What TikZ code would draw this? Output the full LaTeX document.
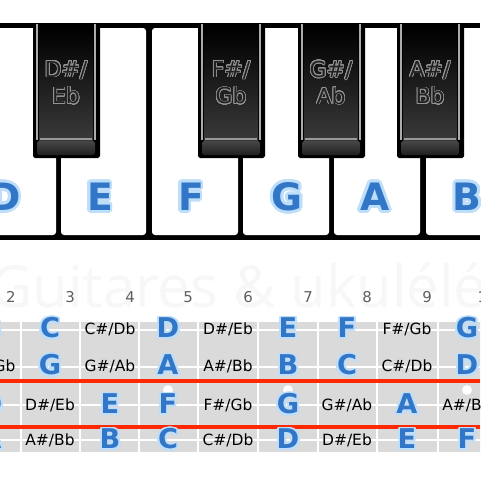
\documentclass[tikz,border=0pt]{standalone}
\usepackage{fontspec}
\setmainfont{DejaVu Sans}
\newfontfamily\markfont{Open Sans}
\usepackage{contour}
\contournumber{32}
\definecolor{keyblue}{RGB}{50,118,200}
\definecolor{keyglow}{RGB}{190,222,250}
\definecolor{cellgray}{RGB}{218,218,218}
\definecolor{barred}{RGB}{255,40,0}
\definecolor{fretgray}{RGB}{95,95,95}
\newcommand{\nt}[1]{{\bfseries\fontsize{15.5}{15.5}\selectfont\color{keyblue}\contourlength{1.1pt}\contour{keyglow}{#1}}}
\newcommand{\sh}[2]{#1\#/#2b}
\newcommand{\bklabel}[2]{\contour{gray!85}{#1\#/}\\\contour{gray!85}{#2b}}
\tikzstyle{whitekey} = [fill=white,rounded corners=1.7pt]
\tikzstyle{blackkey} = [fill=black,rounded corners=1pt]
\tikzstyle{keyname}  = [font=\bfseries\fontsize{21.5}{21.5}\selectfont,text=keyblue]
\tikzstyle{bkname}   = [font=\fontsize{12.5}{15.3}\selectfont,text=gray!25!black,align=center]
\tikzstyle{note}     = [font=\fontsize{8.8}{9}\selectfont,inner sep=0pt]
\tikzstyle{fretno}   = [font=\fontsize{8.5}{9}\selectfont,text=fretgray]
\tikzstyle{cell}     = [fill=cellgray]
\tikzstyle{bar}      = [draw=barred,line width=2.3pt]

\begin{document}
\begin{tikzpicture}[x=0.02cm,y=-0.02cm]
\useasboundingbox (0,0) rectangle (480,480);
\clip (0,0) rectangle (480,480);
\fill[white] (0,0) rectangle (480,480);

% watermark
\node[font=\markfont\fontsize{33}{33}\selectfont,text=gray!6,anchor=base west]
  (mark) at (-16,307) {Guitares \& ukulélé};

% piano
\fill[black] (0,23) rectangle (480,240);
\foreach \l/\r/\lx/\name in {-40/56/5/D,61/146/100/E,152/238/191/F,
                              243/329/287/G,334/420/375/A,426/520/467/B}{
  \path[whitekey] (\l,28) rectangle (\r,235);
  \node[keyname] (wk-\name) at (\lx,198) {\contourlength{1.5pt}\contour{keyglow}{\name}};
}
\foreach \cx/\up/\down in {66/D/E,231/F/G,331/G/A,430/A/B}{
  \path[blackkey] (\cx-33,24) rectangle (\cx+34,158);
  \shade[top color=black,bottom color=gray!45!black] (\cx-27,28) rectangle (\cx+27,140);
  \draw[gray!65,line width=0.8pt] (\cx-29,24) -- (\cx-29,140) (\cx+29,24) -- (\cx+29,140);
  \shade[top color=gray!55!black,bottom color=gray!25!black,rounded corners=1pt]
    (\cx-29,141) rectangle (\cx+29,155);
  \draw[gray!80,line width=0.6pt] (\cx-26,139) -- (\cx+26,139);
  \node[bkname] (bk-\up) at (\cx,83) {\contourlength{0.45pt}\bklabel{\up}{\down}};
}

% fretboard
\foreach \l/\r in {-38/21,21/80,80/139,139/198,198/258,258/318,318/377,377/438,438/497}
  \fill[cellgray] (\l+1.4,322) rectangle (\r-1.4,452);
\foreach \y in {330,367,405,440}
  \draw[white,line width=0.6pt] (0,\y) -- (480,\y);
\foreach \x in {168,288,467}
  \fill[white] (\x,390) circle[radius=2.8pt];
\draw[bar] (0,381) -- (480,381);
\draw[bar] (0,427) -- (480,427);

\foreach \fret/\x/\sa/\sb/\sc/\sd in {
    2/-9/\nt{B}/\sh{F}{G}/\nt{D}/\nt{A},
    3/50/\nt{C}/\nt{G}/\sh{D}{E}/\sh{A}{B},
    4/110/\sh{C}{D}/\sh{G}{A}/\nt{E}/\nt{B},
    5/168/\nt{D}/\nt{A}/\nt{F}/\nt{C},
    6/228/\sh{D}{E}/\sh{A}{B}/\sh{F}{G}/\sh{C}{D},
    7/288/\nt{E}/\nt{B}/\nt{G}/\nt{D},
    8/347/\nt{F}/\nt{C}/\sh{G}{A}/\sh{D}{E},
    9/407/\sh{F}{G}/\sh{C}{D}/\nt{A}/\nt{E},
    10/467/\nt{G}/\nt{D}/\sh{A}{B}/\nt{F}}{
  \node[fretno] (fret-\fret) at (\x+20,297) {\fret};
  \node[note] (A-\fret) at (\x,329) {\sa};
  \node[note] (E-\fret) at (\x,366) {\sb};
  \node[note] (C-\fret) at (\x,405) {\sc};
  \node[note] (G-\fret) at (\x,440) {\sd};
}
\end{tikzpicture}
\end{document}
